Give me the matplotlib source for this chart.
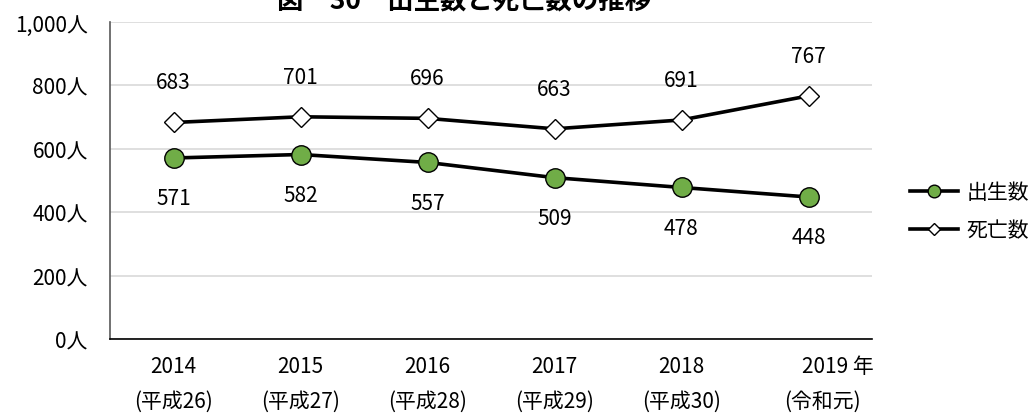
import numpy as np
import matplotlib.pyplot as plt

plt.rcParams['font.family'] = ['Noto Sans CJK JP', 'DejaVu Sans']

years = ["2014", "2015", "2016", "2017", "2018", "2019"]
eras = ["(平成26)", "(平成27)", "(平成28)", "(平成29)", "(平成30)", "(令和元)"]
births = [571, 582, 557, 509, 478, 448]
deaths = [683, 701, 696, 663, 691, 767]

fig = plt.figure(figsize=(10.36, 4.14), dpi=100)
ax = fig.add_axes([110 / 1036, 1 - 340 / 414, 762 / 1036, 317 / 414])

x = np.arange(len(years))

ax.plot(x, births, color='black', lw=2.6, marker='o', ms=14,
        mfc='#70AD47', mec='black', mew=1.0, label='出生数', zorder=3)
ax.plot(x, deaths, color='black', lw=2.6, marker='D', ms=9.8,
        mfc='white', mec='black', mew=1.0, label='死亡数', zorder=3)

for xi, b, d in zip(x, births, deaths):
    ax.annotate(str(d), (xi, d), xytext=(0, 29), textcoords='offset points',
                ha='center', va='center', fontsize=15)
    ax.annotate(str(b), (xi, b), xytext=(0, -29), textcoords='offset points',
                ha='center', va='center', fontsize=15)

ax.set_xlim(-0.5, len(years) - 0.5)
ax.set_ylim(0, 1000)
ax.set_yticks(np.arange(0, 1001, 200))
ax.set_yticklabels([f"{v:,}人" for v in range(0, 1001, 200)], fontsize=15)
ax.set_xticks([])
ax.tick_params(axis='y', length=0, pad=16)

ax.grid(axis='y', color='#d9d9d9', lw=1.2)
ax.set_axisbelow(True)
for s in ['top', 'right']:
    ax.spines[s].set_visible(False)
ax.spines['left'].set_color('#595959')
ax.spines['left'].set_linewidth(1.2)
ax.spines['bottom'].set_color('black')
ax.spines['bottom'].set_linewidth(1.2)

# category labels: year on the first row, era name below
trans = ax.get_xaxis_transform()
for i, (yr, era) in enumerate(zip(years, eras)):
    label, shift_yr, shift_era = yr, 0, 0
    if i == len(years) - 1:
        label = yr + " 年"
        shift_yr, shift_era = 0.235, 0.11
    ax.text(i + shift_yr, -0.085, label, transform=trans, ha='center', va='center',
            fontsize=15)
    ax.text(i + shift_era, -0.195, era, transform=trans, ha='center', va='center',
            fontsize=15)

fig.text(464 / 1036, 1 - 9 / 414, "図　30　出生数と死亡数の推移", ha='center',
         va='baseline', fontsize=19, fontweight='bold')

fig.legend(loc='center left', bbox_to_anchor=(910 / 1036, 1 - 212 / 414),
           frameon=False, fontsize=15, handlelength=2.3, handletextpad=0.4,
           labelspacing=0.75, borderpad=0, borderaxespad=0, markerscale=0.65)

fig.savefig('out.png', dpi=100)
